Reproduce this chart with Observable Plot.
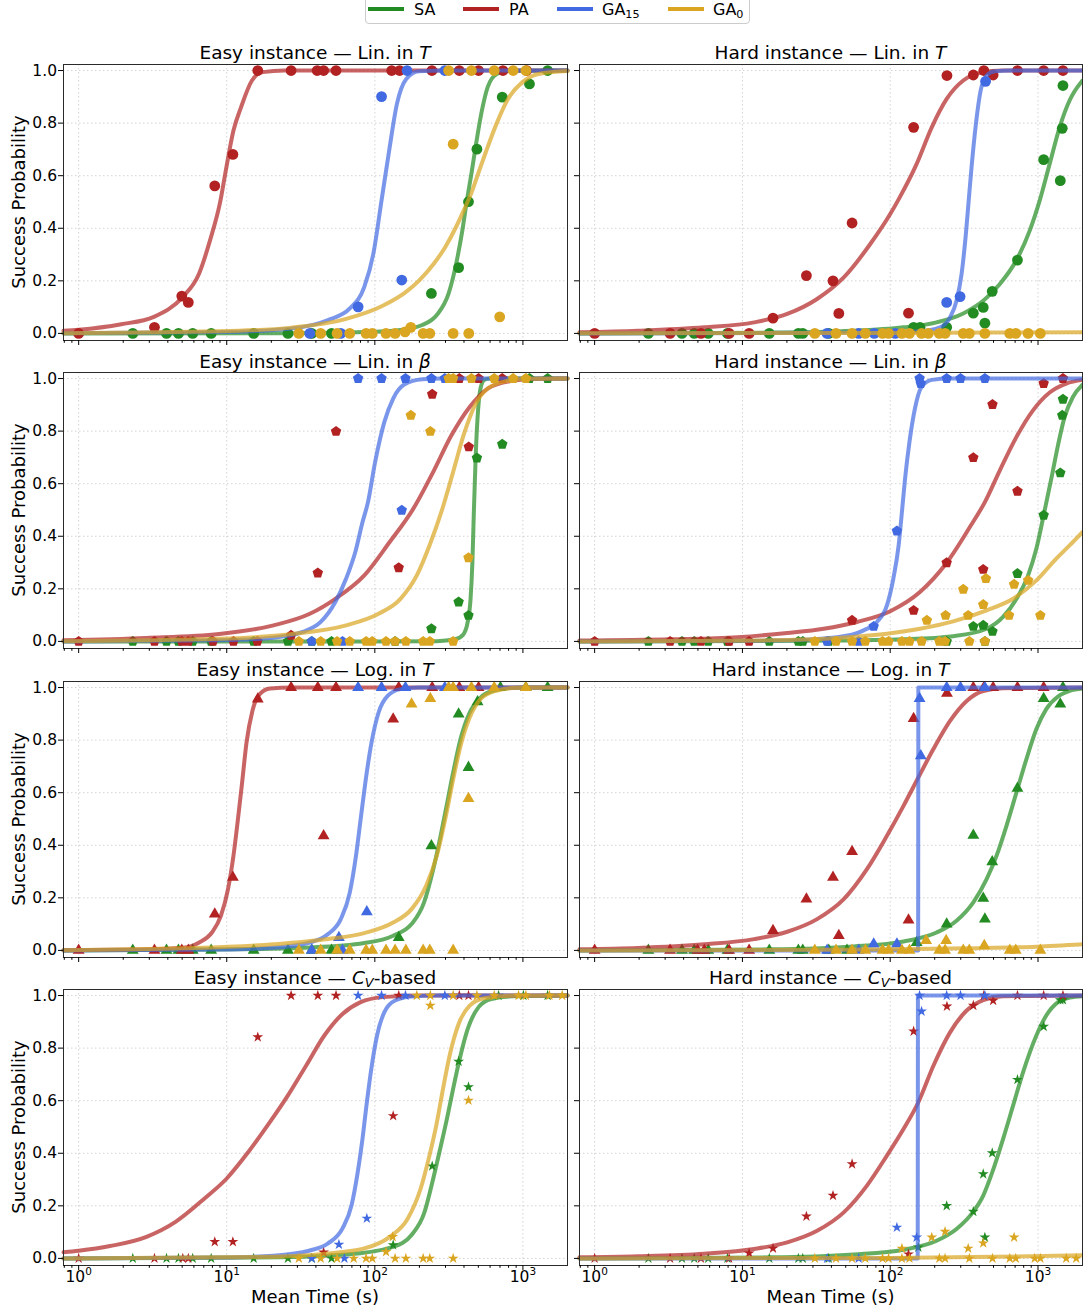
<!DOCTYPE html>
<html><head><meta charset="utf-8">
<script src="https://cdn.jsdelivr.net/npm/d3@7"></script>
<script src="https://cdn.jsdelivr.net/npm/@observablehq/plot@0.6"></script>
<style>
body{margin:0;background:#fff;font-family:"DejaVu Sans",sans-serif;color:#000}
#root{position:relative;width:1083px;height:1311px;overflow:hidden;background:#fff}
.abs{position:absolute}
.title{position:absolute;text-align:center;font-size:18.5px;line-height:18.5px;white-space:nowrap}
.lbl{position:absolute;font-size:18px;line-height:18px;white-space:nowrap;text-align:center}
.xl{line-height:14px}
sub{font-size:70%;vertical-align:-0.25em;line-height:0}
.leg{position:absolute;font-size:16px;line-height:16px;white-space:nowrap}
</style></head>
<body><div id="root"></div>
<script>
// ---------- data ----------
const algos = ["SA", "PA", "GA15", "GA0"];
const algoColors = ["#228b22", "#b22222", "#4169e1", "#daa520"];
const legendLabels = ["SA", "PA", "GA<sub>15</sub>", "GA<sub>0</sub>"];
const yTicks = [0, 0.2, 0.4, 0.6, 0.8, 1.0];
const xMajor = [1, 10, 100, 1000];
const xMinor = [0.8, 0.9, 2, 3, 4, 5, 6, 7, 8, 9, 20, 30, 40, 50, 60, 70, 80, 90, 200, 300, 400, 500, 600, 700, 800, 900];
const panelTitles = [
  "Easy instance — Lin. in <i>T</i>", "Hard instance — Lin. in <i>T</i>",
  "Easy instance — Lin. in <i>β</i>", "Hard instance — Lin. in <i>β</i>",
  "Easy instance — Log. in <i>T</i>", "Hard instance — Log. in <i>T</i>",
  "Easy instance — <i>C<sub>V</sub></i>-based", "Hard instance — <i>C<sub>V</sub></i>-based"
];
const yLabel = "Success Probability";
const xLabel = "Mean Time (s)";

// observed points: [algorithm, mean time (s), success probability]
const dotsEasyLinT = [
  ["SA",2.32,0],["SA",3.92,0],["SA",4.72,0],["SA",5.89,0],["SA",7.85,0],["SA",15.2,0],["SA",25.9,0],["SA",37.5,0],["SA",51,0],
  ["SA",241,0.152],["SA",368,0.25],["SA",429,0.501],["SA",489,0.701],["SA",725,0.899],["SA",1107,0.949],["SA",1468,1.0],
  ["PA",1,0],["PA",3.25,0.023],["PA",4.97,0.142],["PA",5.5,0.118],["PA",8.3,0.561],["PA",11.0,0.681],["PA",16.2,1],["PA",27.2,1],
  ["PA",40.8,1],["PA",45.1,1],["PA",54.7,1],["PA",130,1],["PA",147,1],["PA",243,1],["PA",372,1],["PA",502,1],["PA",733,1],["PA",1059,1],
  ["GA15",36.4,0],["GA15",58.9,0],["GA15",77.1,0.101],["GA15",111,0.901],["GA15",152,0.203],["GA15",165,1],["GA15",297,1],
  ["GA0",30.7,0],["GA0",43.1,0],["GA0",55.6,0],["GA0",67.7,0],["GA0",87.3,0],["GA0",96.1,0],["GA0",119,0],["GA0",137,0],
  ["GA0",160,0.006],["GA0",175,0.023],["GA0",212,0],["GA0",235,0],["GA0",338,0],["GA0",431,0],["GA0",338,0.72],["GA0",315,1],
  ["GA0",449,1],["GA0",640,1],["GA0",859,1],["GA0",1047,1],["GA0",697,0.063]
];
const fitEasyLinT = [
  ["SA",0.79,0],["SA",27.5,0.001],["SA",84.9,0.005],["SA",149,0.013],["SA",209,0.032],["SA",262,0.07],["SA",315,0.152],["SA",358,0.278],
  ["SA",390,0.392],["SA",417,0.5],["SA",449,0.608],["SA",483,0.722],["SA",523,0.835],["SA",578,0.937],["SA",666,0.987],["SA",812,0.999],["SA",2000,1],
  ["PA",0.79,0.01],["PA",1,0.014],["PA",1.94,0.035],["PA",3.22,0.063],["PA",5.05,0.139],["PA",6.51,0.228],["PA",7.71,0.354],["PA",9.03,0.5],
  ["PA",9.95,0.633],["PA",11.1,0.772],["PA",12.5,0.861],["PA",14.8,0.962],["PA",17.5,0.994],["PA",24.5,1],["PA",2000,1],
  ["GA15",0.79,0.001],["GA15",8.89,0.005],["GA15",27.5,0.019],["GA15",48.3,0.051],["GA15",67.8,0.095],["GA15",84.9,0.177],["GA15",97.8,0.304],
  ["GA15",111,0.506],["GA15",125,0.696],["GA15",141,0.873],["GA15",163,0.968],["GA15",198,0.997],["GA15",294,1],["GA15",2000,1],
  ["GA0",0.79,0.001],["GA0",8.89,0.008],["GA0",27.5,0.022],["GA0",64,0.055],["GA0",113,0.105],["GA0",160,0.155],["GA0",198,0.2],["GA0",250,0.265],
  ["GA0",300,0.33],["GA0",350,0.4],["GA0",400,0.47],["GA0",449,0.535],["GA0",500,0.61],["GA0",562,0.69],["GA0",666,0.8],["GA0",789,0.89],
  ["GA0",989,0.955],["GA0",1274,0.987],["GA0",2000,0.998]
];

const dotsHardLinT = [
  ["SA",2.31,0],["SA",3.9,0],["SA",4.72,0],["SA",5.87,0],["SA",7.92,0],["SA",15.2,0],["SA",23.9,0],["SA",25.6,0],["SA",38.4,0],
  ["SA",144,0.023],["SA",159,0.023],["SA",241,0.023],["SA",365,0.077],["SA",426,0.099],["SA",437,0.039],["SA",490,0.16],["SA",726,0.279],
  ["SA",1092,0.661],["SA",1415,0.581],["SA",1459,0.78],["SA",1475,0.943],
  ["PA",1,0],["PA",3.24,0],["PA",5.24,0],["PA",8.13,0],["PA",11.1,0],["PA",16.1,0.058],["PA",27.1,0.22],["PA",41,0.2],["PA",44.9,0.076],
  ["PA",55.2,0.42],["PA",133,0.077],["PA",144,0.784],["PA",242,0.981],["PA",365,0.983],["PA",430,1],["PA",497,0.983],["PA",726,1],["PA",1092,1],["PA",1475,1],
  ["GA15",37.4,0],["GA15",61.2,0],["GA15",78,0],["GA15",108,0],["GA15",241,0.118],["GA15",297,0.14],["GA15",442,0.959],
  ["GA0",30.9,0],["GA0",43,0],["GA0",55.2,0],["GA0",67.8,0],["GA0",88.8,0],["GA0",97.5,0],["GA0",120,0],["GA0",135,0],["GA0",163,0],
  ["GA0",181,0],["GA0",215,0],["GA0",235,0],["GA0",312,0],["GA0",343,0],["GA0",437,0],["GA0",644,0],["GA0",707,0],["GA0",857,0],["GA0",1037,0]
];
const fitHardLinT = [
  ["SA",0.79,0],["SA",15.5,0.003],["SA",56.6,0.01],["SA",123,0.023],["SA",206,0.042],["SA",312,0.076],["SA",426,0.124],["SA",552,0.188],
  ["SA",715,0.279],["SA",879,0.391],["SA",1026,0.505],["SA",1199,0.645],["SA",1400,0.784],["SA",1635,0.886],["SA",2000,0.962],
  ["PA",0.79,0.004],["PA",1.96,0.01],["PA",5.52,0.023],["PA",12,0.042],["PA",20.1,0.074],["PA",32,0.131],["PA",48.5,0.213],["PA",73.3,0.34],
  ["PA",100,0.454],["PA",114,0.51],["PA",151,0.645],["PA",191,0.784],["PA",241,0.892],["PA",312,0.962],["PA",404,0.991],["PA",580,1],["PA",2000,1],
  ["GA15",0.79,0],["GA15",73.3,0.003],["GA15",159,0.008],["GA15",217,0.023],["GA15",254,0.061],["GA15",281,0.124],["GA15",304,0.226],
  ["GA15",325,0.378],["GA15",339,0.5],["GA15",355,0.632],["GA15",380,0.797],["GA15",409,0.924],["GA15",449,0.981],["GA15",510,0.997],["GA15",644,1],["GA15",2000,1],
  ["GA0",0.79,0.001],["GA0",100,0.002],["GA0",2000,0.004]
];

const dotsEasyLinB = [
  ["SA",2.32,0],["SA",3.92,0],["SA",4.72,0],["SA",5.89,0],["SA",7.85,0],["SA",15.2,0],["SA",25.9,0],["SA",37.5,0],["SA",51,0],["SA",137,0],
  ["SA",241,0.048],["SA",368,0.15],["SA",429,0.099],["SA",489,0.698],["SA",725,0.75],["SA",1107,1],["SA",1468,1],
  ["PA",1,0],["PA",3.25,0],["PA",4.97,0],["PA",5.5,0],["PA",8.07,0],["PA",11.1,0],["PA",16.1,0],["PA",27.2,0.023],["PA",41.2,0.26],
  ["PA",54.7,0.799],["PA",145,0.28],["PA",244,0.94],["PA",372,1],["PA",431,0.74],["PA",502,1],["PA",725,1],
  ["GA15",37.5,0],["GA15",60.5,0],["GA15",77.1,1],["GA15",111,1],["GA15",152,0.499],["GA15",161,1],["GA15",241,1],["GA15",297,1],
  ["GA0",30.7,0],["GA0",43.1,0],["GA0",55.6,0],["GA0",67.7,0],["GA0",87.3,0],["GA0",96.1,0],["GA0",119,0],["GA0",137,0],["GA0",162,0],
  ["GA0",212,0],["GA0",235,0],["GA0",338,0],["GA0",175,0.86],["GA0",237,0.799],["GA0",429,0.318],["GA0",315,1],["GA0",338,1],["GA0",449,1],
  ["GA0",640,1],["GA0",859,1],["GA0",1047,1]
];
const fitEasyLinB = [
  ["SA",0.79,0],["SA",84.9,0],["SA",262,0.001],["SA",348,0.008],["SA",394,0.025],["SA",424,0.074],["SA",443,0.162],["SA",456,0.302],
  ["SA",467,0.505],["SA",480,0.708],["SA",497,0.873],["SA",517,0.962],["SA",547,0.994],["SA",596,1],["SA",2000,1],
  ["PA",0.79,0.004],["PA",2.87,0.013],["PA",8.89,0.028],["PA",20.7,0.061],["PA",36.4,0.105],["PA",54.1,0.162],["PA",84.9,0.251],["PA",126,0.378],
  ["PA",182,0.505],["PA",248,0.645],["PA",329,0.784],["PA",437,0.892],["PA",578,0.962],["PA",812,0.99],["PA",1274,0.999],["PA",2000,1],
  ["GA15",0.79,0],["GA15",8.89,0.004],["GA15",20.7,0.014],["GA15",32.5,0.036],["GA15",43.1,0.074],["GA15",54.1,0.15],["GA15",64,0.239],
  ["GA15",73.8,0.34],["GA15",82.6,0.454],["GA15",89.9,0.53],["GA15",100.5,0.683],["GA15",116,0.835],["GA15",133,0.924],["GA15",158,0.977],
  ["GA15",209,0.997],["GA15",294,1],["GA15",2000,1],
  ["GA0",0.79,0.001],["GA0",8.89,0.01],["GA0",27.5,0.028],["GA0",64,0.061],["GA0",106,0.105],["GA0",149,0.162],["GA0",192,0.251],["GA0",234,0.365],
  ["GA0",286,0.505],["GA0",338,0.645],["GA0",401,0.791],["GA0",474,0.898],["GA0",578,0.962],["GA0",767,0.99],["GA0",1076,0.999],["GA0",2000,1]
];

const dotsHardLinB = [
  ["SA",2.31,0],["SA",3.9,0],["SA",4.72,0],["SA",5.87,0],["SA",7.92,0],["SA",15.2,0],["SA",23.9,0],["SA",25.6,0],["SA",38.4,0],["SA",241,0],["SA",437,0],
  ["SA",365,0.057],["SA",426,0.061],["SA",492,0.038],["SA",726,0.258],["SA",1092,0.48],["SA",1415,0.641],["SA",1459,0.86],["SA",1475,0.921],
  ["PA",1,0],["PA",3.24,0],["PA",5.24,0],["PA",8.13,0],["PA",11.1,0],["PA",55.2,0.08],["PA",144,0.118],["PA",241,0.299],["PA",365,0.699],
  ["PA",426,0.274],["PA",492,0.901],["PA",726,0.571],["PA",1092,0.981],["PA",1475,1],
  ["GA15",37.4,0],["GA15",61.2,0],["GA15",77.3,0.057],["GA15",111,0.42],["GA15",158,1],["GA15",161,0.981],["GA15",241,1],["GA15",299,1],["GA15",437,1],
  ["GA0",30.9,0],["GA0",43,0],["GA0",55.2,0],["GA0",67.8,0],["GA0",88.8,0],["GA0",97.5,0],["GA0",120,0],["GA0",135,0],["GA0",163,0],
  ["GA0",215,0],["GA0",235,0],["GA0",343,0],["GA0",437,0],["GA0",177,0.08],["GA0",237,0.099],["GA0",312,0.198],["GA0",337,0.099],
  ["GA0",426,0.14],["GA0",444,0.239],["GA0",637,0.099],["GA0",689,0.217],["GA0",857,0.232],["GA0",1037,0.099]
];
const fitHardLinB = [
  ["SA",0.79,0],["SA",43.7,0.003],["SA",123,0.008],["SA",267,0.02],["SA",449,0.048],["SA",580,0.093],["SA",715,0.162],["SA",857,0.251],
  ["SA",975,0.353],["SA",1092,0.48],["SA",1230,0.619],["SA",1365,0.746],["SA",1514,0.854],["SA",1722,0.93],["SA",2000,0.977],
  ["PA",0.79,0.003],["PA",3.29,0.008],["PA",9.25,0.016],["PA",20.1,0.032],["PA",35.5,0.048],["PA",59.6,0.074],["PA",100,0.115],["PA",159,0.188],
  ["PA",241,0.299],["PA",346,0.435],["PA",437,0.53],["PA",552,0.651],["PA",715,0.778],["PA",925,0.879],["PA",1199,0.947],["PA",1552,0.981],["PA",2000,0.995],
  ["GA15",0.79,0],["GA15",15.5,0.003],["GA15",43.7,0.016],["GA15",66.1,0.042],["GA15",81.3,0.074],["GA15",95,0.137],["GA15",105,0.239],
  ["GA15",114,0.365],["GA15",120,0.492],["GA15",126,0.619],["GA15",135,0.759],["GA15",147,0.886],["GA15",163,0.968],["GA15",191,0.995],
  ["GA15",254,1],["GA15",2000,1],
  ["GA0",0.79,0],["GA0",15.5,0.004],["GA0",43.7,0.013],["GA0",95,0.029],["GA0",159,0.048],["GA0",267,0.076],["GA0",449,0.118],["GA0",678,0.162],
  ["GA0",975,0.232],["GA0",1330,0.315],["GA0",1635,0.365],["GA0",2000,0.416]
];

const dotsEasyLogT = [
  ["SA",2.32,0],["SA",3.92,0],["SA",4.72,0],["SA",5.89,0],["SA",7.85,0],["SA",15.2,0],["SA",25.9,0],["SA",37.5,0],["SA",51,0],
  ["SA",145,0.049],["SA",241,0.398],["SA",368,0.899],["SA",429,0.696],["SA",494,0.946],["SA",705,1],["SA",1047,1],["SA",1468,1],
  ["PA",1,0],["PA",3.25,0],["PA",4.97,0],["PA",5.5,0],["PA",8.3,0.138],["PA",11,0.278],["PA",16.2,0.956],["PA",27.2,1],["PA",41.2,1],
  ["PA",45.1,0.436],["PA",54.7,1],["PA",133,0.88],["PA",145,1],["PA",244,1],["PA",372,1],["PA",502,1],
  ["GA15",37.5,0],["GA15",57.2,0.049],["GA15",60.5,0],["GA15",77.1,1],["GA15",88.3,0.147],["GA15",111,1],["GA15",161,1],["GA15",297,1],
  ["GA0",30.7,0],["GA0",43.1,0],["GA0",55.6,0],["GA0",67.7,0],["GA0",87.3,0],["GA0",96.1,0],["GA0",119,0],["GA0",137,0],["GA0",162,0],
  ["GA0",212,0],["GA0",235,0],["GA0",338,0],["GA0",177,0.937],["GA0",237,0.958],["GA0",315,1],["GA0",338,1],["GA0",449,1],["GA0",429,0.578],
  ["GA0",640,1],["GA0",1047,1]
];
const fitEasyLogT = [
  ["SA",0.79,0],["SA",8.89,0.003],["SA",36.4,0.011],["SA",84.9,0.028],["SA",133,0.056],["SA",177,0.1],["SA",215,0.183],["SA",248,0.309],
  ["SA",278,0.436],["SA",302,0.537],["SA",338,0.677],["SA",379,0.804],["SA",437,0.905],["SA",517,0.962],["SA",648,0.99],["SA",908,0.999],["SA",2000,1],
  ["PA",0.79,0.001],["PA",2.87,0.004],["PA",5.05,0.01],["PA",6.51,0.03],["PA",7.94,0.068],["PA",9.14,0.132],["PA",10.2,0.233],["PA",11.1,0.36],
  ["PA",11.9,0.499],["PA",12.7,0.639],["PA",13.6,0.791],["PA",14.9,0.911],["PA",16.7,0.975],["PA",19.6,0.996],["PA",27.5,1],["PA",2000,1],
  ["GA15",0.79,0],["GA15",8.89,0.003],["GA15",20.7,0.01],["GA15",36.4,0.03],["GA15",48.3,0.062],["GA15",58.9,0.119],["GA15",67.8,0.221],
  ["GA15",74.6,0.36],["GA15",80.2,0.499],["GA15",86.3,0.639],["GA15",95,0.791],["GA15",106,0.905],["GA15",122,0.968],["GA15",149,0.994],
  ["GA15",198,1],["GA15",2000,1],
  ["GA0",0.79,0.001],["GA0",5.05,0.008],["GA0",20.7,0.023],["GA0",48.3,0.043],["GA0",84.9,0.066],["GA0",133,0.106],["GA0",177,0.157],
  ["GA0",222,0.246],["GA0",262,0.36],["GA0",302,0.512],["GA0",338,0.651],["GA0",379,0.778],["GA0",437,0.886],["GA0",517,0.956],["GA0",648,0.987],
  ["GA0",908,0.999],["GA0",2000,1]
];

const dotsHardLogT = [
  ["SA",2.31,0],["SA",3.9,0],["SA",4.72,0],["SA",5.87,0],["SA",7.92,0],["SA",15.2,0],["SA",23.9,0],["SA",25.6,0],["SA",38.4,0],["SA",51,0],
  ["SA",151,0.03],["SA",241,0.1],["SA",365,0.438],["SA",426,0.198],["SA",437,0.119],["SA",490,0.337],["SA",726,0.617],["SA",1092,0.958],
  ["SA",1415,0.937],["SA",1475,1],
  ["PA",1,0],["PA",3.24,0],["PA",4.97,0],["PA",5.52,0],["PA",8.13,0],["PA",11.1,0],["PA",16.1,0.075],["PA",27.1,0.195],["PA",41,0.278],
  ["PA",44.9,0.056],["PA",55.2,0.376],["PA",133,0.115],["PA",144,0.882],["PA",242,0.978],["PA",365,1],["PA",430,1],["PA",497,1],["PA",726,1],["PA",1092,1],
  ["GA15",37.4,0],["GA15",61.2,0],["GA15",77.3,0.024],["GA15",111,0.024],["GA15",158,0.958],["GA15",161,0.74],["GA15",241,1],["GA15",299,1],["GA15",437,1],
  ["GA0",30.9,0],["GA0",43,0],["GA0",55.2,0],["GA0",67.8,0],["GA0",88.8,0],["GA0",97.5,0],["GA0",120,0],["GA0",135,0],["GA0",215,0],
  ["GA0",235,0],["GA0",312,0],["GA0",343,0],["GA0",644,0],["GA0",707,0],["GA0",1037,0],["GA0",175,0.037],["GA0",239,0.037],["GA0",433,0.018]
];
const fitHardLogT = [
  ["SA",0.79,0],["SA",15.5,0.004],["SA",56.6,0.015],["SA",123,0.034],["SA",206,0.068],["SA",281,0.113],["SA",365,0.183],["SA",449,0.271],
  ["SA",524,0.36],["SA",612,0.474],["SA",715,0.601],["SA",834,0.727],["SA",975,0.842],["SA",1137,0.918],["SA",1365,0.966],["SA",1635,0.987],["SA",2000,0.996],
  ["PA",0.79,0.004],["PA",1.96,0.009],["PA",5.52,0.023],["PA",12,0.043],["PA",20.1,0.071],["PA",32,0.119],["PA",48.5,0.195],["PA",69.6,0.309],
  ["PA",95,0.436],["PA",123,0.55],["PA",155,0.658],["PA",196,0.766],["PA",254,0.873],["PA",329,0.949],["PA",426,0.987],["PA",580,0.997],["PA",2000,1],
  ["GA0",0.79,0],["GA0",73.3,0.003],["GA0",346,0.008],["GA0",975,0.014],["GA0",2000,0.023]
];
const stepHardLogT = [["GA15",0.79,0],["GA15",154.5,0],["GA15",155,1],["GA15",2000,1]];

const dotsEasyCv = [
  ["SA",2.32,0],["SA",3.92,0],["SA",4.72,0],["SA",5.89,0],["SA",7.85,0],["SA",15.2,0],["SA",25.9,0],["SA",37.5,0],["SA",51,0],
  ["SA",133,0.051],["SA",244,0.351],["SA",368,0.749],["SA",429,0.652],["SA",685,1],["SA",1007,1],["SA",1468,1],
  ["PA",1,0],["PA",3.25,0],["PA",5.05,0],["PA",5.5,0],["PA",8.3,0.063],["PA",11,0.063],["PA",16.2,0.842],["PA",27.2,1],["PA",41.2,1],
  ["PA",45.1,0.023],["PA",54.7,1],["PA",133,0.542],["PA",145,1],["PA",372,1],["PA",429,1],
  ["GA15",37.5,0],["GA15",57.2,0.053],["GA15",62.3,0],["GA15",77.1,1],["GA15",88.3,0.152],["GA15",111,1],["GA15",161,1],["GA15",297,1],
  ["GA0",30.7,0],["GA0",43.1,0],["GA0",55.6,0],["GA0",72,0],["GA0",87.3,0],["GA0",96.1,0],["GA0",119,0.025],["GA0",132,0.082],["GA0",137,0],
  ["GA0",162,0],["GA0",212,0],["GA0",235,0],["GA0",338,0],["GA0",192,1],["GA0",237,0.962],["GA0",237,1],["GA0",338,1],["GA0",429,0.601],
  ["GA0",489,1],["GA0",640,1],["GA0",935,1],["GA0",1047,1],["GA0",1510,1],["GA0",1841,1]
];
const fitEasyCv = [
  ["SA",0.79,0],["SA",15.6,0.003],["SA",64,0.015],["SA",133,0.044],["SA",177,0.089],["SA",215,0.171],["SA",248,0.304],["SA",278,0.424],
  ["SA",307,0.532],["SA",338,0.646],["SA",372,0.753],["SA",424,0.873],["SA",502,0.956],["SA",612,0.987],["SA",859,0.997],["SA",2000,1],
  ["PA",0.79,0.023],["PA",1,0.029],["PA",1.63,0.047],["PA",2.87,0.082],["PA",4.51,0.139],["PA",7.08,0.228],["PA",10,0.304],["PA",14,0.405],
  ["PA",19.6,0.519],["PA",25.9,0.62],["PA",34.4,0.734],["PA",45.6,0.848],["PA",60.5,0.93],["PA",80.2,0.975],["PA",113,0.994],["PA",198,1],["PA",2000,1],
  ["GA15",0.79,0],["GA15",8.89,0.003],["GA15",20.7,0.01],["GA15",36.4,0.03],["GA15",48.3,0.057],["GA15",60.5,0.114],["GA15",69.7,0.203],
  ["GA15",76.7,0.329],["GA15",82.6,0.456],["GA15",87.3,0.57],["GA15",94,0.709],["GA15",103.5,0.848],["GA15",116,0.937],["GA15",137,0.981],
  ["GA15",177,0.996],["GA15",262,1],["GA15",2000,1],
  ["GA0",0.79,0],["GA0",15.6,0.005],["GA0",48.3,0.019],["GA0",84.9,0.038],["GA0",126,0.082],["GA0",167,0.152],["GA0",204,0.266],["GA0",234,0.392],
  ["GA0",260,0.506],["GA0",286,0.633],["GA0",320,0.772],["GA0",368,0.892],["GA0",437,0.962],["GA0",547,0.99],["GA0",812,0.999],["GA0",2000,1]
];

const dotsHardCv = [
  ["SA",2.31,0],["SA",3.9,0],["SA",4.72,0],["SA",5.87,0],["SA",7.92,0],["SA",15.2,0],["SA",23.9,0],["SA",25.6,0],["SA",38.4,0],
  ["SA",155,0.042],["SA",241,0.2],["SA",365,0.178],["SA",426,0.321],["SA",437,0.08],["SA",490,0.401],["SA",726,0.68],["SA",1092,0.882],
  ["SA",1415,0.983],["SA",1475,0.983],
  ["PA",1,0],["PA",3.24,0],["PA",5.24,0],["PA",8.13,0],["PA",11.1,0.02],["PA",16.1,0.038],["PA",27.1,0.16],["PA",41,0.239],["PA",55.2,0.359],
  ["PA",133,0.016],["PA",144,0.864],["PA",242,0.959],["PA",365,0.962],["PA",430,1],["PA",497,0.981],["PA",726,1],["PA",1092,1],["PA",1475,1],
  ["GA15",37.4,0],["GA15",61.2,0],["GA15",111,0.118],["GA15",151,0.08],["GA15",158,1],["GA15",163,0.94],["GA15",241,1],["GA15",299,1],["GA15",437,1],
  ["GA0",30.9,0],["GA0",43,0],["GA0",55.2,0],["GA0",67.8,0],["GA0",88.8,0],["GA0",97.5,0],["GA0",120,0],["GA0",135,0],["GA0",215,0],
  ["GA0",235,0],["GA0",343,0],["GA0",492,0],["GA0",644,0],["GA0",707,0],["GA0",950,0],["GA0",1037,0],["GA0",1552,0],["GA0",1813,0],
  ["GA0",120,0.038],["GA0",191,0.08],["GA0",235,0.102],["GA0",337,0.038],["GA0",426,0.058],["GA0",689,0.08]
];
const fitHardCv = [
  ["SA",0.79,0],["SA",15.5,0.004],["SA",56.6,0.015],["SA",123,0.033],["SA",206,0.067],["SA",281,0.112],["SA",365,0.178],["SA",426,0.239],
  ["SA",490,0.327],["SA",580,0.454],["SA",678,0.581],["SA",792,0.708],["SA",975,0.848],["SA",1137,0.924],["SA",1365,0.975],["SA",1635,0.992],["SA",2000,0.997],
  ["PA",0.79,0.004],["PA",1.96,0.008],["PA",5.52,0.018],["PA",12,0.036],["PA",20.1,0.061],["PA",32,0.105],["PA",48.5,0.175],["PA",69.6,0.277],
  ["PA",95,0.391],["PA",123,0.492],["PA",155,0.594],["PA",196,0.733],["PA",254,0.86],["PA",329,0.943],["PA",426,0.983],["PA",580,0.997],["PA",2000,1],
  ["GA0",0.79,0],["GA0",100,0.002],["GA0",500,0.006],["GA0",2000,0.012]
];
const stepHardCv = [["GA15",0.79,0],["GA15",153.5,0],["GA15",154,1],["GA15",2000,1]];

// ---------- drawing ----------
const root = document.getElementById("root");
const pentagon = {
  draw(context, size) {
    const R = Math.sqrt(size / Math.PI) * 1.1;
    for (let i = 0; i < 5; i++) {
      const a = -Math.PI / 2 + i * 2 * Math.PI / 5;
      const x = R * Math.cos(a), y = R * Math.sin(a);
      if (i === 0) context.moveTo(x, y); else context.lineTo(x, y);
    }
    context.closePath();
  }
};
const rowSymbols = [["circle", 5.4], [pentagon, 5.0], ["triangle", 4.4], ["star", 3.4]];
const frameTops = [64, 372.3, 680.6, 989];

function addDiv(cls, html, css) {
  const d = document.createElement("div");
  d.className = cls; d.innerHTML = html;
  Object.assign(d.style, css);
  root.appendChild(d);
  return d;
}

function drawPanel(i, dots, fits, steps) {
  const row = Math.floor(i / 2), col = i % 2;
  const isLeft = col === 0, isBottom = row === 3;
  const mL = isLeft ? 63 : 9, mR = isLeft ? 3 : 1, innerW = isLeft ? 504 : 503;
  const mT = 3, mB = isBottom ? 26 : 8, innerH = 276;
  const [symbol, r] = rowSymbols[row];
  const X = d => d[1], Y = d => d[2];
  const gridStyle = {stroke: "#b0b0b0", strokeOpacity: 0.7, strokeWidth: 0.8, strokeDasharray: "1.5,2.5"};
  const marks = [Plot.gridX(xMajor, gridStyle), Plot.gridY(yTicks, gridStyle)];
  algos.forEach((a, k) => {
    marks.push(Plot.dot(dots.filter(d => d[0] === a), {x: X, y: Y, fill: algoColors[k], r, symbol, stroke: "none"}));
    const f = fits.filter(d => d[0] === a);
    if (f.length) marks.push(Plot.line(f, {x: X, y: Y, stroke: algoColors[k], strokeWidth: 4, strokeOpacity: 0.7, curve: "monotone-x"}));
    const s = steps.filter(d => d[0] === a);
    if (s.length) marks.push(Plot.line(s, {x: X, y: Y, stroke: algoColors[k], strokeWidth: 4, strokeOpacity: 0.7, curve: "linear"}));
  });
  marks.push(Plot.frame({stroke: "#2a2a2a", strokeWidth: 1}));
  marks.push(Plot.axisY(yTicks, {tickSize: 5, tickPadding: 1.5, fontSize: 15.5, label: null,
    tickFormat: isLeft ? (d => d.toFixed(1)) : (() => "")}));
  marks.push(Plot.axisX(xMajor, {tickSize: 5, tickPadding: 0.5, fontSize: 15.5, label: null,
    tickFormat: isBottom ? (d => "10^" + Math.round(Math.log10(d))) : (() => "")}));
  marks.push(Plot.axisX(xMinor, {tickSize: 2.8, label: null, tickFormat: () => ""}));
  const svg = Plot.plot({
    width: mL + innerW + mR, height: mT + innerH + mB,
    marginLeft: mL, marginRight: mR, marginTop: mT, marginBottom: mB,
    x: {type: "log", domain: [0.79, 2000]},
    y: {domain: [-0.027, 1.023]},
    style: {fontFamily: "DejaVu Sans", fontSize: "15.5px", color: "#000", background: "transparent", overflow: "visible"},
    marks
  });
  // render exponents of the bottom tick labels as superscripts
  svg.querySelectorAll("text").forEach(t => {
    const m = /^10\^(\d)$/.exec(t.textContent);
    if (!m) return;
    t.textContent = "";
    const base = document.createElementNS("http://www.w3.org/2000/svg", "tspan");
    base.textContent = "10";
    const ex = document.createElementNS("http://www.w3.org/2000/svg", "tspan");
    ex.textContent = m[1];
    ex.setAttribute("font-size", "10.5");
    ex.setAttribute("dy", "-7");
    t.appendChild(base); t.appendChild(ex);
  });
  const wrap = document.createElement("div");
  wrap.className = "abs";
  wrap.style.left = (isLeft ? 0 : 570) + "px";
  wrap.style.top = (frameTops[row] - mT) + "px";
  wrap.appendChild(svg);
  root.appendChild(wrap);
  const frameLeft = (isLeft ? 0 : 570) + mL;
  addDiv("title", panelTitles[i], {left: frameLeft + "px", width: innerW + "px", top: (frameTops[row] - 19.6) + "px"});
  if (isLeft) addDiv("lbl", yLabel, {left: "19px", top: (frameTops[row] + innerH / 2) + "px", transform: "translate(-50%,-50%) rotate(-90deg)"});
  if (isBottom) addDiv("lbl xl", xLabel, {left: frameLeft + "px", width: innerW + "px", top: "1289.6px"});
}

const panelData = [
  [dotsEasyLinT, fitEasyLinT, []], [dotsHardLinT, fitHardLinT, []],
  [dotsEasyLinB, fitEasyLinB, []], [dotsHardLinB, fitHardLinB, []],
  [dotsEasyLogT, fitEasyLogT, []], [dotsHardLogT, fitHardLogT, stepHardLogT],
  [dotsEasyCv, fitEasyCv, []], [dotsHardCv, fitHardCv, stepHardCv]
];
panelData.forEach((p, i) => drawPanel(i, p[0], p[1], p[2]));

// legend
addDiv("abs", "", {left: "365px", top: "-6px", width: "383px", height: "28px", border: "1px solid #cccccc", borderRadius: "4px", background: "#fff"});
const swatchLefts = [368, 463, 557, 668], textLefts = [414, 509, 602, 713];
legendLabels.forEach((lab, k) => {
  addDiv("abs", "", {left: swatchLefts[k] + "px", top: "7.4px", width: "36px", height: "3.6px", background: algoColors[k]});
  addDiv("leg", lab, {left: textLefts[k] + "px", top: "2.2px"});
});
</script>
</body></html>
